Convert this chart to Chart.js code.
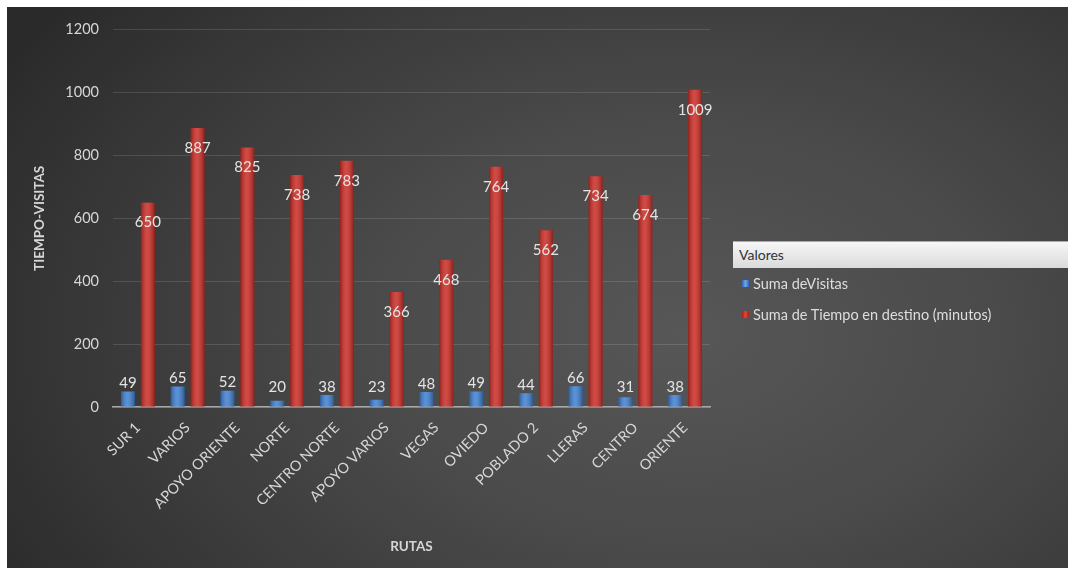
<!DOCTYPE html>
<html>
<head>
<meta charset="utf-8">
<script src="https://cdn.jsdelivr.net/npm/chart.js@4"></script>
<style>
  html, body { margin: 0; padding: 0; background: #fff; }
  body { width: 1068px; height: 568px; overflow: hidden; position: relative; font-family: Lato, "Open Sans", sans-serif; }
  #wrap {
    position: absolute; left: 7px; top: 7px; width: 1061px; height: 561px;
    background: radial-gradient(ellipse 75% 95% at 64% 58%, #575757 0%, #4a4a4a 40%, #383838 75%, #2a2a2a 100%);
  }
  #wrap canvas { position: absolute; left: 0; top: 0; }
  .legend { position: absolute; left: 726px; top: 234px; width: 335px; }
  .legend-head {
    height: 26px; line-height: 26px; padding-left: 6px; font-size: 14px; color: #333;
    background: linear-gradient(#f7f7f7, #dadada); border-top: 1px solid #aaa;
  }
  .legend-item { position: relative; height: 31px; line-height: 31px; padding-left: 20px; font-size: 14.5px; color: #dedede; }
  .legend-item span { position: absolute; left: 9px; top: 12px; width: 7px; height: 7px; }
</style>
</head>
<body>
<div id="wrap">
  <canvas id="chart" width="1061" height="561"></canvas>
  <div class="legend">
    <div class="legend-head">Valores</div>
    <div class="legend-item"><span style="background:linear-gradient(90deg,#2f63b0,#6fa6ea,#2f63b0)"></span>Suma deVisitas</div>
    <div class="legend-item"><span style="background:linear-gradient(90deg,#a71e18,#e2463c,#a71e18)"></span>Suma de Tiempo en destino (minutos)</div>
  </div>
</div>
<script>
// -------------------------------------------------------------
// DATA
// -------------------------------------------------------------
const rutas = ["SUR 1", "VARIOS", "APOYO ORIENTE", "NORTE", "CENTRO NORTE", "APOYO VARIOS",
  "VEGAS", "OVIEDO", "POBLADO 2", "LLERAS", "CENTRO", "ORIENTE"];
const visitas = [49, 65, 52, 20, 38, 23, 48, 49, 44, 66, 31, 38];
const tiempo = [650, 887, 825, 738, 783, 366, 468, 764, 562, 734, 674, 1009];
const yTicks = [0, 200, 400, 600, 800, 1000, 1200];

const labelColor = "#e4e4e4";

// -------------------------------------------------------------
// PLUGINS: bar shading + value labels
// -------------------------------------------------------------
const shade = {
  id: "shade",
  afterDatasetsDraw(chart) {
    const ctx = chart.ctx;
    chart.data.datasets.forEach((ds, i) => {
      chart.getDatasetMeta(i).data.forEach(bar => {
        const w = bar.width, x0 = bar.x - w / 2;
        const g = ctx.createLinearGradient(x0, 0, x0 + w, 0);
        g.addColorStop(0, "rgba(0,0,0,0.28)");
        g.addColorStop(0.45, "rgba(255,255,255,0.14)");
        g.addColorStop(1, "rgba(0,0,0,0.3)");
        ctx.save();
        ctx.fillStyle = g;
        ctx.fillRect(x0, bar.y, w, bar.base - bar.y);
        ctx.restore();
      });
    });
  }
};

const valueLabels = {
  id: "valueLabels",
  afterDatasetsDraw(chart) {
    const ctx = chart.ctx;
    ctx.save();
    ctx.font = "15px Lato, 'Open Sans', sans-serif";
    ctx.fillStyle = labelColor;
    ctx.textAlign = "center";
    ctx.textBaseline = "middle";
    chart.data.datasets.forEach((ds, i) => {
      chart.getDatasetMeta(i).data.forEach((bar, j) => {
        const v = ds.data[j];
        const y = i === 0 ? Math.min(bar.y - 8, 380) : bar.y + 20;
        ctx.fillText(String(v), bar.x, y);
      });
    });
    ctx.restore();
  }
};

// -------------------------------------------------------------
// CHART
// -------------------------------------------------------------
new Chart(document.getElementById("chart"), {
  type: "bar",
  data: {
    labels: rutas,
    datasets: [
      { label: "Suma deVisitas", data: visitas, backgroundColor: "#3f80d2" },
      { label: "Suma de Tiempo en destino (minutos)", data: tiempo, backgroundColor: "#cc2c25" }
    ]
  },
  options: {
    responsive: false,
    animation: false,
    devicePixelRatio: 1,
    categoryPercentage: 0.8,
    barPercentage: 0.7,
    layout: { padding: { left: 25, right: 358, top: 15, bottom: 13 } },
    plugins: { legend: { display: false }, tooltip: { enabled: false } },
    scales: {
      x: {
        grid: { display: false },
        border: { color: "#a8a8a8", width: 1.5 },
        ticks: {
          color: "#d6d6d6", font: { size: 14.5, family: "Lato" },
          maxRotation: 45, minRotation: 45, padding: 4
        },
        title: {
          display: true, text: "RUTAS", color: "#d6d6d6",
          font: { size: 13.5, weight: "bold", family: "Lato" }, padding: 0
        },
        afterFit(s) { s.height = 148; }
      },
      y: {
        min: 0, max: 1200,
        afterBuildTicks(s) { s.ticks = yTicks.map(v => ({ value: v })); },
        grid: { color: "rgba(255,255,255,0.13)", drawTicks: false },
        border: { display: false },
        ticks: {
          color: "#d6d6d6", font: { size: 14.5, family: "Lato" }, padding: 14,
          callback: v => String(v)
        },
        title: {
          display: true, text: "TIEMPO-VISITAS", color: "#d6d6d6",
          font: { size: 13.5, weight: "bold", family: "Lato" }, padding: 0
        },
        afterFit(s) { s.width = 81; }
      }
    }
  },
  plugins: [shade, valueLabels]
});
</script>
</body>
</html>
